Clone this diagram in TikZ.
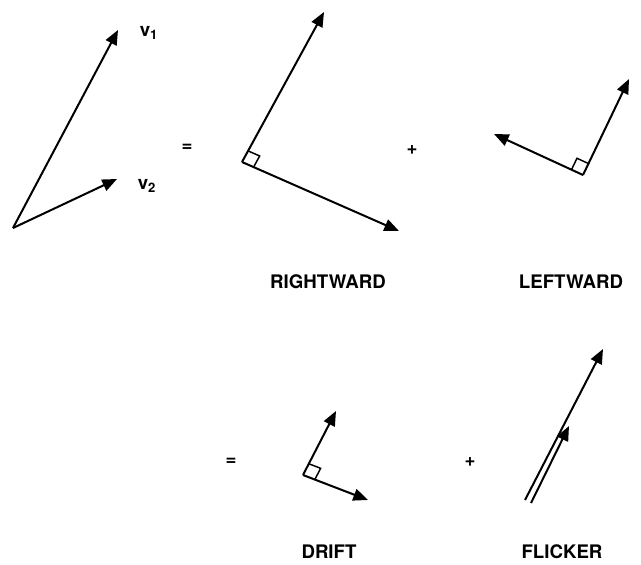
\documentclass[tikz,border=0pt]{standalone}
\usepackage{fontspec}
\setsansfont{TeX Gyre Heros}
\usetikzlibrary{arrows.meta,calc}
\newcommand\SqSize{9.5pt}
\tikzset{
  vec/.style={
    line width=1.5pt,
    -{Triangle[length=11pt,width=9pt]}
  },
  rangle/.style={
    line width=1.1pt
  },
  lbl/.style={
    font=\sffamily\bfseries\fontsize{14}{16}\selectfont,
    inner sep=0pt
  },
  sym/.style={
    font=\sffamily\bfseries\fontsize{14}{16}\selectfont,
    inner sep=0pt
  }
}
% little square in the corner #1 between the legs to #2 and #3
\newcommand\RightAngle[3]{
  \coordinate (#1a) at ($(#1)!\SqSize!(#2)$);
  \coordinate (#1b) at ($(#1)!\SqSize!(#3)$);
  \draw[rangle] (#1a) -- ($(#1a)+(#1b)-(#1)$) -- (#1b);
}
\begin{document}
\begin{tikzpicture}[x=0.75pt,y=-0.75pt]
  \useasboundingbox (0,0) rectangle (641,564);

  % the two vectors
  \coordinate (o) at (13,228);
  \coordinate (v1) at (118,30);
  \coordinate (v2) at (117,179);
  \draw[vec] (o) -- (v1);
  \draw[vec] (o) -- (v2);
  \node[lbl] (v1lbl) at (149,33) {v\textsubscript{1}};
  \node[lbl] (v2lbl) at (147,186) {v\textsubscript{2}};

  \node[sym] (eqA) at (187,148) {=};

  % rightward
  \coordinate (rc) at (242,162);
  \coordinate (ru) at (324,12);
  \coordinate (rd) at (399,231);
  \draw[vec] (rc) -- (ru);
  \draw[vec] (rc) -- (rd);
  \RightAngle{rc}{ru}{rd}
  \node[lbl] (rlbl) at (328,282) {RIGHTWARD};

  \node[sym] (plusA) at (412,150) {+};

  % leftward
  \coordinate (lc) at (583,175);
  \coordinate (lu) at (629,79);
  \coordinate (ll) at (494,134);
  \draw[vec] (lc) -- (lu);
  \draw[vec] (lc) -- (ll);
  \RightAngle{lc}{lu}{ll}
  \node[lbl] (llbl) at (571,282) {LEFTWARD};

  \node[sym] (eqB) at (231,462) {=};

  % drift
  \coordinate (dc) at (303,475);
  \coordinate (du) at (336,411);
  \coordinate (dr) at (368,500);
  \draw[vec] (dc) -- (du);
  \draw[vec] (dc) -- (dr);
  \RightAngle{dc}{du}{dr}
  \node[lbl] (dlbl) at (329,552) {DRIFT};

  \node[sym] (plusB) at (470,462) {+};

  % flicker
  \coordinate (f0) at (525,500);
  \coordinate (f1) at (603,349);
  \coordinate (g0) at (531,503);
  \coordinate (g1) at (569,426);
  \draw[vec] (f0) -- (f1);
  \draw[vec] (g0) -- (g1);
  \node[lbl] (flbl) at (562,552) {FLICKER};
\end{tikzpicture}
\end{document}
